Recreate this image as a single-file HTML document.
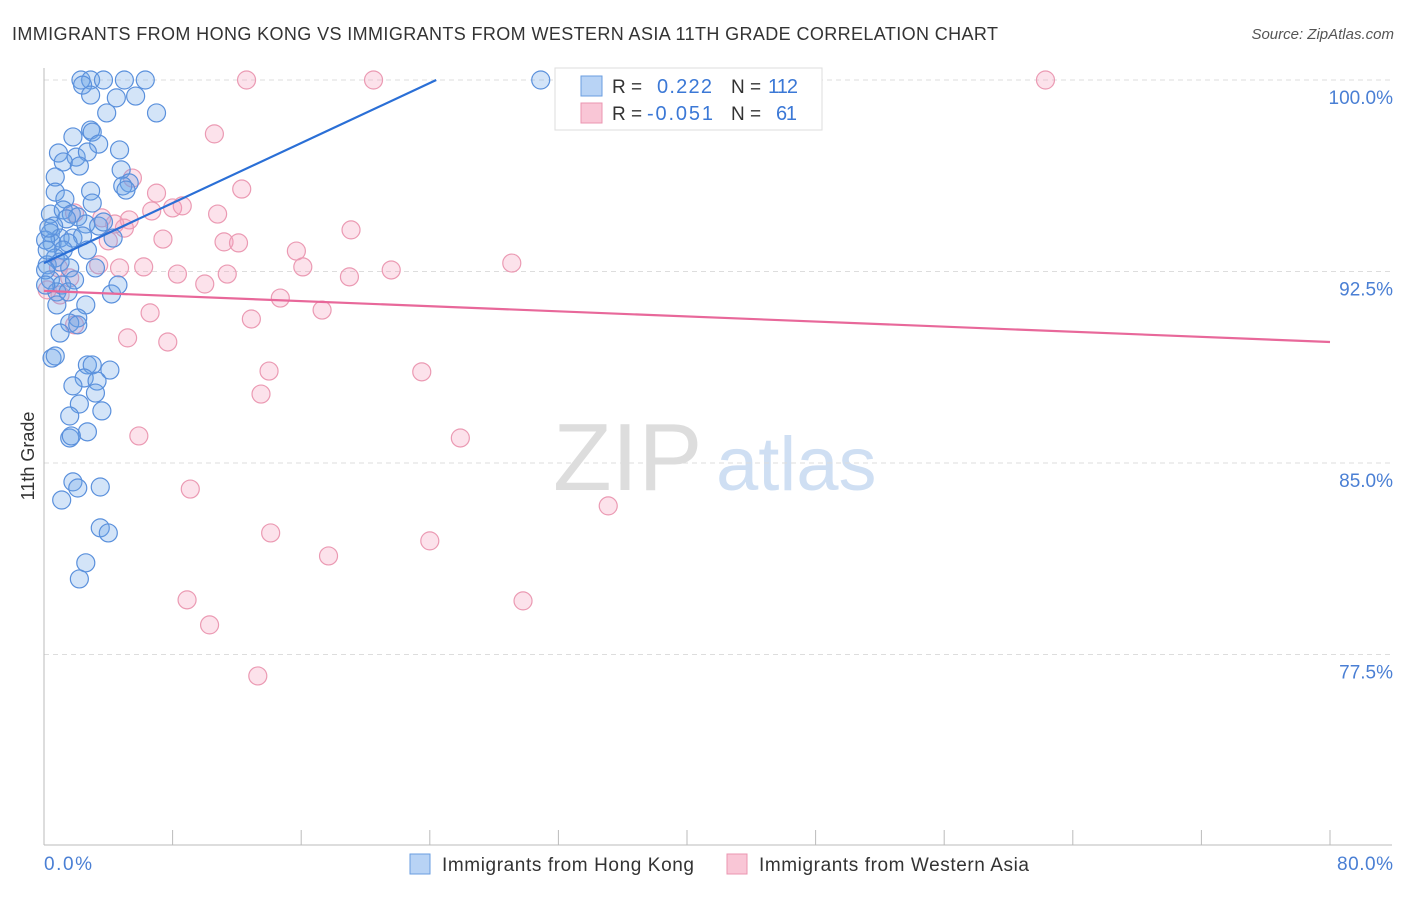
<!DOCTYPE html>
<html><head><meta charset="utf-8"><style>
body{margin:0;background:#fff;font-family:"Liberation Sans",sans-serif}
svg text{font-family:"Liberation Sans",sans-serif}
</style></head><body>
<svg width="1406" height="892" xmlns="http://www.w3.org/2000/svg">
<text x="12" y="40" font-size="18" fill="#333" textLength="986" lengthAdjust="spacing">IMMIGRANTS FROM HONG KONG VS IMMIGRANTS FROM WESTERN ASIA 11TH GRADE CORRELATION CHART</text>
<text x="1394" y="39" font-size="15" fill="#555" font-style="italic" text-anchor="end">Source: ZipAtlas.com</text>
<g>
<text x="553" y="490" font-size="96" fill="#ddd" font-family="Liberation Serif,serif">ZIP</text>
<text x="716" y="490" font-size="76" fill="#cfdff3">atlas</text>
</g>
<g id="grid"></g>
<g id="axes"></g>
<g id="pts"></g>
<g id="trends"></g>
<g>
<rect x="555" y="68" width="267" height="62" fill="#fff" stroke="#ddd"/>
<rect x="581" y="76" width="21" height="20" fill="#b8d3f5" stroke="#6a9ee0"/>
<rect x="581" y="103" width="21" height="20" fill="#f9c6d6" stroke="#eb95b0"/>
<text x="612" y="93" font-size="19" fill="#333">R =</text>
<text x="657" y="93" font-size="20" fill="#3b78d6" textLength="55">0.222</text>
<text x="731" y="93" font-size="19" fill="#333">N =</text>
<text x="768" y="93" font-size="20" fill="#3b78d6" textLength="30">112</text>
<text x="612" y="120" font-size="19" fill="#333">R =</text>
<text x="647" y="120" font-size="20" fill="#3b78d6" textLength="66">-0.051</text>
<text x="731" y="120" font-size="19" fill="#333">N =</text>
<text x="776" y="120" font-size="20" fill="#3b78d6" textLength="21">61</text>
</g>
<g>
<rect x="410" y="854" width="20" height="20" fill="#b8d3f5" stroke="#6a9ee0"/>
<text x="442" y="871" font-size="19" fill="#333" textLength="252" lengthAdjust="spacing">Immigrants from Hong Kong</text>
<rect x="727" y="854" width="20" height="20" fill="#f9c6d6" stroke="#eb95b0"/>
<text x="759" y="871" font-size="19" fill="#333" textLength="270" lengthAdjust="spacing">Immigrants from Western Asia</text>
</g>
<text transform="translate(34,456) rotate(-90)" font-size="18" fill="#333" text-anchor="middle">11th Grade</text>
</svg>
<script>
const yTicks=[100,92.5,85,77.5];
const yTickLabels=["100.0%","92.5%","85.0%","77.5%"];
const xTickLabels=["0.0%","80.0%"];
const hkX=[2.3,2.9,3.7,5.0,6.3,30.9,2.4,2.9,4.5,5.7,3.9,7.0,2.9,3.0,1.8,3.4,0.9,2.0,2.7,4.7,1.2,2.2,4.8,5.3,0.7,4.9,5.1,0.7,2.9,1.3,3.0,0.4,1.2,1.7,2.1,1.4,0.6,2.6,3.4,3.7,0.4,1.0,1.8,2.4,4.3,0.5,1.5,1.2,2.7,0.7,0.2,1.0,1.6,3.2,0.4,1.1,1.9,0.8,1.5,4.2,4.6,0.8,2.6,2.1,1.6,2.1,1.0,0.5,0.7,2.7,3.0,4.1,2.5,3.3,1.8,2.2,3.2,1.6,3.6,2.7,1.6,1.7,1.8,3.5,2.1,1.1,3.5,4.0,2.6,2.2,0.1,0.1,0.1,0.2,0.3];
const hkY=[100,100,100,100,100,100,99.80,99.41,99.30,99.37,98.71,98.71,98.04,97.96,97.77,97.49,97.14,96.98,97.18,97.26,96.79,96.63,96.48,95.97,96.20,95.85,95.69,95.61,95.65,95.34,95.18,94.75,94.91,94.75,94.64,94.56,94.28,94.36,94.28,94.44,94.01,93.81,93.81,93.89,93.81,93.62,93.62,93.34,93.34,93.03,92.76,92.87,92.64,92.64,92.17,91.97,92.17,91.70,91.70,91.62,91.97,91.19,91.19,90.68,90.48,90.41,90.09,89.11,89.19,88.84,88.84,88.64,88.33,88.21,88.02,87.31,87.74,86.84,87.04,86.22,85.98,86.06,84.26,84.06,84.02,83.55,82.46,82.26,81.09,80.46,93.73,92.56,91.97,93.34,94.20];
const waX=[12.6,20.5,42.3,62.3,10.6,5.5,7.0,12.3,6.7,8.0,8.6,10.8,5.3,4.4,5.0,3.6,1.9,19.1,7.4,11.2,12.1,4.0,15.7,4.7,6.2,8.3,11.4,16.1,19.0,21.6,29.1,3.4,0.9,10.0,14.7,17.3,6.6,12.9,5.2,7.7,1.9,14.0,23.5,13.5,5.9,25.9,9.1,35.1,14.1,17.7,24.0,8.9,29.8,10.3,13.3,0.2,1.0,1.6];
const waY=[100,100,100,100,97.89,96.16,95.57,95.73,94.87,94.99,95.07,94.75,94.52,94.36,94.20,94.60,94.79,94.13,93.77,93.66,93.62,93.70,93.30,92.64,92.68,92.40,92.40,92.68,92.29,92.56,92.83,92.76,92.64,92.01,91.46,90.99,90.88,90.64,89.90,89.74,90.41,88.60,88.57,87.70,86.06,85.98,83.98,83.32,82.26,81.36,81.95,79.64,79.60,78.66,76.66,91.78,91.58,92.25];
const hkTrend=[0,92.83,24.4,100];
const waTrend=[0,91.74,80,89.74];
const NS="http://www.w3.org/2000/svg";
function sx(v){return 44+v/80*1286;}
function sy(v){return 80+(100-v)/7.5*191.5;}
function mk(t,a,p){const e=document.createElementNS(NS,t);for(const k in a)e.setAttribute(k,a[k]);p.appendChild(e);return e;}
const grid=document.getElementById('grid'),axes=document.getElementById('axes'),pts=document.getElementById('pts'),tr=document.getElementById('trends');
yTicks.forEach((t,i)=>{
 const l=mk('line',{x1:44,x2:1392,y1:sy(t),y2:sy(t),stroke:'#ddd','stroke-dasharray':'5,4'},grid);
 
 
 const tx=mk('text',{x:1393,y:sy(t)+24,'font-size':19,fill:'#4a7fd4','text-anchor':'end'},axes);
 tx.textContent=yTickLabels[i];
 
 
});
mk('line',{x1:44,x2:44,y1:68,y2:845,stroke:'#bbb'},axes);
mk('line',{x1:44,x2:1392,y1:845,y2:845,stroke:'#bbb'},axes);
for(let i=0;i<=10;i++){const x=sx(i*8);const t=mk('line',{x1:x,x2:x,y1:830,y2:845,stroke:'#bbb'},axes);
 
 }
let a=mk('text',{x:44,y:870,'font-size':19,fill:'#4a7fd4',textLength:48},axes);a.textContent=xTickLabels[0];


a=mk('text',{x:1337,y:870,'font-size':19,fill:'#4a7fd4',textLength:56},axes);a.textContent=xTickLabels[1];


waX.forEach((x,i)=>{const c=mk('circle',{cx:sx(x),cy:sy(waY[i]),r:9,fill:'rgba(244,160,188,0.3)',stroke:'#eb9ab3','stroke-width':1.2},pts);
 
 });
hkX.forEach((x,i)=>{const c=mk('circle',{cx:sx(x),cy:sy(hkY[i]),r:9,fill:'rgba(110,165,232,0.3)',stroke:'#5a90dc','stroke-width':1.2},pts);
 
 });
let l1=mk('line',{x1:sx(hkTrend[0]),y1:sy(hkTrend[1]),x2:sx(hkTrend[2]),y2:sy(hkTrend[3]),stroke:'#2a6fd6','stroke-width':2.2},tr);


let l2=mk('line',{x1:sx(waTrend[0]),y1:sy(waTrend[1]),x2:sx(waTrend[2]),y2:sy(waTrend[3]),stroke:'#e8689a','stroke-width':2.2},tr);


</script>
</body></html>
